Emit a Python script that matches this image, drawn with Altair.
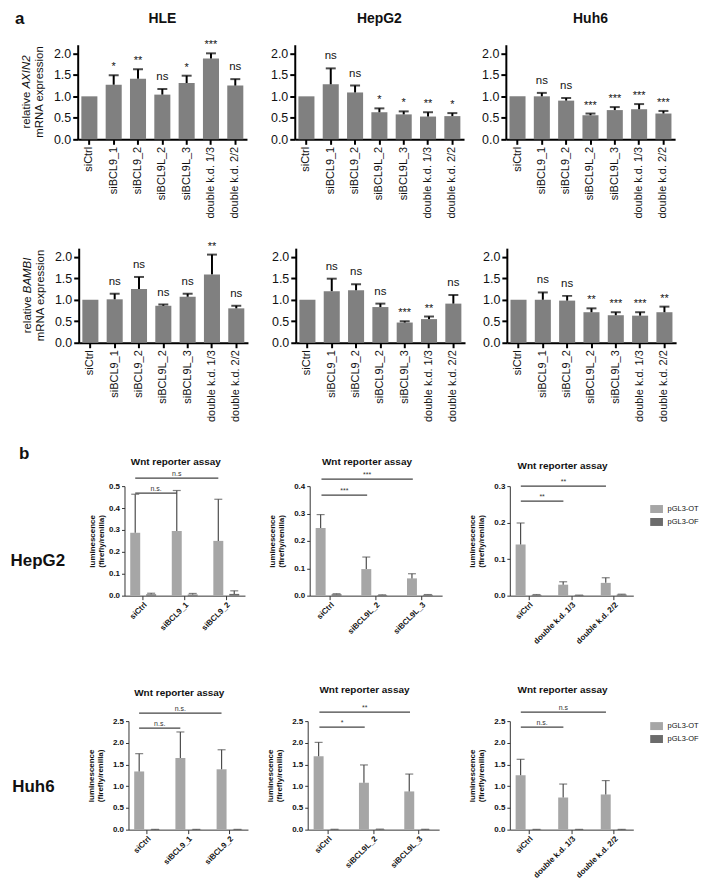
import altair as alt
import pandas as pd

FONT = "Liberation Sans"
INK = "#111111"
BAR_A = "#808080"
ERR_B = "#4d4d4d"

# ---------------- panel a data ----------------
a_conds = ["siCtrl", "siBCL9_1", "siBCL9_2", "siBCL9L_2", "siBCL9L_3",
           "double k.d. 1/3", "double k.d. 2/2"]
a_ticks = [0, 0.5, 1.0, 1.5, 2.0]
a_ymax = 2.2

axin2_hle_mean = [1.00, 1.27, 1.41, 1.04, 1.31, 1.88, 1.25]
axin2_hle_top = [1.00, 1.49, 1.63, 1.17, 1.48, 2.00, 1.40]
axin2_hle_sig = ["", "*", "**", "ns", "*", "***", "ns"]

axin2_hepg2_mean = [1.00, 1.28, 1.09, 0.63, 0.58, 0.53, 0.54]
axin2_hepg2_top = [1.00, 1.65, 1.25, 0.72, 0.65, 0.63, 0.61]
axin2_hepg2_sig = ["", "ns", "ns", "*", "*", "**", "*"]

axin2_huh6_mean = [1.00, 1.00, 0.90, 0.56, 0.68, 0.70, 0.60]
axin2_huh6_top = [1.00, 1.08, 0.96, 0.60, 0.75, 0.82, 0.66]
axin2_huh6_sig = ["", "ns", "ns", "***", "***", "***", "***"]

bambi_hle_mean = [1.00, 1.01, 1.25, 0.86, 1.07, 1.59, 0.80]
bambi_hle_top = [1.00, 1.14, 1.53, 0.89, 1.14, 2.05, 0.86]
bambi_hle_sig = ["", "ns", "ns", "ns", "ns", "**", "ns"]

bambi_hepg2_mean = [1.00, 1.20, 1.22, 0.83, 0.47, 0.55, 0.91]
bambi_hepg2_top = [1.00, 1.49, 1.36, 0.91, 0.50, 0.61, 1.11]
bambi_hepg2_sig = ["", "ns", "ns", "ns", "***", "**", "ns"]

bambi_huh6_mean = [1.00, 1.00, 0.98, 0.71, 0.64, 0.63, 0.71]
bambi_huh6_top = [1.00, 1.17, 1.09, 0.80, 0.71, 0.71, 0.84]
bambi_huh6_sig = ["", "ns", "ns", "**", "***", "***", "**"]

# ---------------- panel b data ----------------
series = ["pGL3-OT", "pGL3-OF"]
series_colors = ["#a6a6a6", "#6b6b6b"]

groups_bcl9 = ["siCtrl", "siBCL9_1", "siBCL9_2"]
groups_bcl9l = ["siCtrl", "siBCL9L_2", "siBCL9L_3"]
groups_dkd = ["siCtrl", "double k.d. 1/3", "double k.d. 2/2"]

hep_bcl9_ot_mean = [0.287, 0.295, 0.250]
hep_bcl9_ot_top = [0.463, 0.480, 0.440]
hep_bcl9_of_mean = [0.006, 0.005, 0.008]
hep_bcl9_of_top = [0.011, 0.010, 0.022]
hep_bcl9_sig = ["n.s.", "n.s"]

hep_bcl9l_ot_mean = [0.247, 0.097, 0.063]
hep_bcl9l_ot_top = [0.296, 0.141, 0.080]
hep_bcl9l_of_mean = [0.005, 0.002, 0.003]
hep_bcl9l_of_top = [0.007, 0.003, 0.004]
hep_bcl9l_sig = ["***", "***"]

hep_dkd_ot_mean = [0.140, 0.030, 0.035]
hep_dkd_ot_top = [0.199, 0.038, 0.049]
hep_dkd_of_mean = [0.002, 0.001, 0.003]
hep_dkd_of_top = [0.003, 0.0015, 0.004]
hep_dkd_sig = ["**", "**"]

huh_bcl9_ot_mean = [1.34, 1.65, 1.39]
huh_bcl9_ot_top = [1.75, 2.25, 1.84]
huh_bcl9_of_mean = [0.004, 0.004, 0.004]
huh_bcl9_of_top = [0.006, 0.006, 0.006]
huh_bcl9_sig = ["n.s.", "n.s."]

huh_bcl9l_ot_mean = [1.69, 1.08, 0.88]
huh_bcl9l_ot_top = [2.01, 1.49, 1.28]
huh_bcl9l_of_mean = [0.005, 0.008, 0.005]
huh_bcl9l_of_top = [0.008, 0.012, 0.008]
huh_bcl9l_sig = ["*", "**"]

huh_dkd_ot_mean = [1.25, 0.74, 0.81]
huh_dkd_ot_top = [1.62, 1.05, 1.13]
huh_dkd_of_mean = [0.004, 0.004, 0.004]
huh_dkd_of_top = [0.006, 0.006, 0.006]
huh_dkd_sig = ["n.s.", "n.s"]

hep_ticks_1 = [0, 0.1, 0.2, 0.3, 0.4, 0.5]
hep_ticks_2 = [0, 0.1, 0.2, 0.3, 0.4]
hep_ticks_3 = [0, 0.1, 0.2, 0.3]
huh_ticks = [0, 0.5, 1.0, 1.5, 2.0, 2.5]


def text_layer(text, x, y, size, weight="normal", align="center", style="normal",
               angle=0, baseline="alphabetic"):
    src = pd.DataFrame({"label": [text]})
    kw = dict(fontSize=size, fontWeight=weight, align=align, baseline=baseline,
              fontStyle=style, color=INK, font=FONT)
    if angle:
        kw["angle"] = angle
    return alt.Chart(src).mark_text(**kw).encode(
        x=alt.value(x), y=alt.value(y), text="label:N")


def spacer(w):
    return alt.Chart(pd.DataFrame({"label": [""]})).mark_text().encode(
        x=alt.value(0), y=alt.value(0), text="label:N").properties(width=w, height=1)


# ---------------- panel a ----------------
A_W, A_H = 170, 95
A_PI, A_PO = 0.34, 0.15
FS_YT = 11.5
GENE_UNITS = {"AXIN2": 2890, "BAMBI": 3112}


def panel_a(mean, top, sig, title=None, gene=None, letter=None):
    df = pd.DataFrame({"cond": a_conds, "mean": mean, "top": top, "sig": sig})
    xs = alt.Scale(domain=a_conds, paddingInner=A_PI, paddingOuter=A_PO)
    ys = alt.Scale(domain=[0, a_ymax], nice=False, zero=True)
    xax = alt.Axis(title=None, labelAngle=-90, labelFontSize=11, labelColor=INK,
                   labelOverlap=False, domainColor="black", domainWidth=2,
                   tickColor="black", tickWidth=2, tickSize=5, labelPadding=2)
    yax = alt.Axis(title=None, values=a_ticks, format=".1f", grid=False,
                   labelFontSize=12.5, labelOverlap=False, labelColor=INK,
                   domainColor="black", domainWidth=2, tickColor="black",
                   tickWidth=2, tickSize=5, labelPadding=2)
    x = alt.X("cond:N", scale=xs, axis=xax)
    ymean = alt.Y("mean:Q", scale=ys, axis=yax)
    ytop = alt.Y("top:Q", scale=ys, axis=yax)
    base = alt.Chart(df)
    bars = base.mark_bar(color=BAR_A).encode(x=x, y=ymean)
    with_err = base.transform_filter("datum.top > datum.mean")
    err = with_err.mark_rule(color="black", strokeWidth=2).encode(
        x=x, y=ymean, y2="top:Q")
    cap = with_err.mark_tick(color="black", thickness=2, size=10).encode(x=x, y=ytop)
    ns = base.transform_filter("datum.sig == 'ns'").mark_text(
        dy=-9, fontSize=11.5, color=INK, font=FONT, baseline="alphabetic").encode(
        x=x, y=ytop, text="sig:N")
    stars = base.transform_filter("datum.sig != 'ns' && datum.sig != ''").mark_text(
        dy=-5, fontSize=11, color=INK, font=FONT, baseline="alphabetic").encode(
        x=x, y=ytop, text="sig:N")
    layers = [bars, err, cap, ns, stars]
    if title:
        layers.append(text_layer(title, A_W / 2, -21.5, 14, weight="bold"))
    if gene:
        rel_w = 3223 * FS_YT / 1000
        sp_w = 278 * FS_YT / 1000
        gene_w = GENE_UNITS[gene] * FS_YT / 1000
        total = rel_w + sp_w + gene_w
        yc = A_H / 2
        bottom = yc + total / 2
        layers.append(text_layer("relative", -51, bottom, FS_YT, align="left",
                                 angle=270, baseline="middle"))
        layers.append(text_layer(gene, -51, bottom - rel_w - sp_w, FS_YT,
                                 align="left", style="italic", angle=270,
                                 baseline="middle"))
        layers.append(text_layer("mRNA expression", -38, yc, FS_YT, align="center",
                                 angle=270, baseline="middle"))
    if letter:
        layers.append(text_layer(letter, -63, -20.5, 17, weight="bold", align="left"))
    return alt.layer(*layers).properties(width=A_W, height=A_H)


# ---------------- panel b ----------------
B_PI, B_PO = 0.2, 0.05
O_PI, O_PO = 0.375, 0.23


def panel_b(groups, ot_mean, ot_top, of_mean, of_top, sig, ymax, yticks, width,
            height, title_y, sig_y, title_pad=8, legend_y=None, row_label=None,
            row_label_x=-87, row_label_y=0, letter=False):
    df = pd.DataFrame({
        "group": groups + groups,
        "series": [series[0]] * len(groups) + [series[1]] * len(groups),
        "mean": ot_mean + of_mean,
        "top": ot_top + of_top,
    })
    step = width / (len(groups) - B_PI + 2 * B_PO)
    sub = step * (1 - B_PI) / (2 - O_PI + 2 * O_PO)
    ot_shift = -sub / 2
    xs = alt.Scale(domain=groups, paddingInner=B_PI, paddingOuter=B_PO)
    ys = alt.Scale(domain=[0, ymax], nice=False, zero=True)
    xax = alt.Axis(title=None, labelAngle=-45, labelFontSize=8, labelFontWeight="bold",
                   labelColor=INK, labelOverlap=False, domainColor="#333333",
                   tickColor="#333333", tickSize=4, labelPadding=1)
    yax = alt.Axis(title=["luminescence", "(firefly/renilla)"], titleFontSize=8,
                   titleFontWeight="bold", titleColor=INK, titlePadding=title_pad,
                   titleLineHeight=9, values=yticks, format=".1f", grid=False,
                   labelFontSize=8, labelFontWeight="bold", labelColor=INK,
                   labelOverlap=False, domainColor="#333333", tickColor="#333333",
                   tickSize=3, labelPadding=2)
    x = alt.X("group:N", scale=xs, axis=xax)
    xo = alt.XOffset("series:N", scale=alt.Scale(domain=series, paddingInner=O_PI,
                                                   paddingOuter=O_PO))
    ymean = alt.Y("mean:Q", scale=ys, axis=yax)
    ytop = alt.Y("top:Q", scale=ys, axis=yax)
    if legend_y is None:
        color = alt.Color("series:N", scale=alt.Scale(domain=series, range=series_colors),
                          legend=None)
    else:
        color = alt.Color("series:N", scale=alt.Scale(domain=series, range=series_colors),
                          legend=alt.Legend(
                              title=None, orient="none", legendX=width + 19.4,
                              legendY=legend_y, labelFontSize=7.5, labelColor=INK,
                              symbolType="M-1.6,-1H1.6V1H-1.6Z", symbolSize=64,
                              symbolStrokeWidth=0, rowPadding=5, labelOffset=7))
    base = alt.Chart(df)
    bars = base.mark_bar().encode(x=x, xOffset=xo, y=ymean, color=color)
    err = base.mark_rule(color=ERR_B, strokeWidth=1.2).encode(
        x=x, xOffset=xo, y=ymean, y2="top:Q")
    cap = base.mark_tick(color=ERR_B, thickness=1.2, size=8).encode(
        x=x, xOffset=xo, y=ytop)
    layers = [bars, err, cap]
    for k, (g2, lab) in enumerate(zip(groups[1:], sig)):
        cdf = pd.DataFrame({"group": [groups[0]], "g2": [g2], "label": [lab]})
        yv = sig_y[k]
        rule = alt.Chart(cdf).mark_rule(
            color="#444444", strokeWidth=1.2, xOffset=ot_shift, x2Offset=ot_shift
        ).encode(x=x, x2="g2:N", y=alt.value(yv))
        mid = (groups.index(g2) / 2) * step + ot_shift
        txt = alt.Chart(cdf).mark_text(
            fontSize=7, color="#333333", font=FONT, dx=mid, baseline="alphabetic"
        ).encode(x=x, y=alt.value(yv - 2.5), text="label:N")
        layers += [rule, txt]
    layers.append(text_layer("Wnt reporter assay", width / 2 - 9, title_y, 10,
                             weight="bold"))
    if row_label:
        layers.append(text_layer(row_label, row_label_x, row_label_y, 17,
                                 weight="bold"))
    if letter:
        layers.append(text_layer("b", -106, -27, 17, weight="bold", align="left"))
    return alt.layer(*layers).properties(width=width, height=height)


def row(*charts):
    return alt.hconcat(*charts, spacing=0).resolve_scale(color="independent")


row_a1 = row(
    spacer(7),
    panel_a(axin2_hle_mean, axin2_hle_top, axin2_hle_sig, title="HLE", gene="AXIN2",
            letter="a"),
    spacer(22.6),
    panel_a(axin2_hepg2_mean, axin2_hepg2_top, axin2_hepg2_sig, title="HepG2"),
    spacer(16.6),
    panel_a(axin2_huh6_mean, axin2_huh6_top, axin2_huh6_sig, title="Huh6"),
)
row_a2 = row(
    spacer(13),
    panel_a(bambi_hle_mean, bambi_hle_top, bambi_hle_sig, gene="BAMBI"),
    spacer(22.6),
    panel_a(bambi_hepg2_mean, bambi_hepg2_top, bambi_hepg2_sig),
    spacer(16.6),
    panel_a(bambi_huh6_mean, bambi_huh6_top, bambi_huh6_sig),
)

B_H1, B_H2 = 110, 109

row_b1 = row(
    spacer(1.6),
    panel_b(groups_bcl9, hep_bcl9_ot_mean, hep_bcl9_ot_top, hep_bcl9_of_mean,
            hep_bcl9_of_top, hep_bcl9_sig, 0.5, hep_ticks_1, 121, B_H1, -21.5, [7, -8],
            title_pad=3, row_label="HepG2", row_label_x=-87, row_label_y=80,
            letter=True),
    spacer(22.4),
    panel_b(groups_bcl9l, hep_bcl9l_ot_mean, hep_bcl9l_ot_top, hep_bcl9l_of_mean,
            hep_bcl9l_of_top, hep_bcl9l_sig, 0.4, hep_ticks_2, 133, B_H1, -21.5, [9, -7]),
    spacer(25.4),
    panel_b(groups_dkd, hep_dkd_ot_mean, hep_dkd_ot_top, hep_dkd_of_mean,
            hep_dkd_of_top, hep_dkd_sig, 0.3, hep_ticks_3, 124, B_H1, -17.5, [15, 0],
            legend_y=19),
)
row_b2 = row(
    spacer(3.2),
    panel_b(groups_bcl9, huh_bcl9_ot_mean, huh_bcl9_ot_top, huh_bcl9_of_mean,
            huh_bcl9_of_top, huh_bcl9_sig, 2.5, huh_ticks, 120, B_H2, -25.5, [7, -8],
            row_label="Huh6", row_label_x=-95.5, row_label_y=71),
    spacer(17.4),
    panel_b(groups_bcl9l, huh_bcl9l_ot_mean, huh_bcl9l_ot_top, huh_bcl9l_of_mean,
            huh_bcl9l_of_top, huh_bcl9l_sig, 2.5, huh_ticks, 132, B_H2, -28.5, [6, -9]),
    spacer(28.4),
    panel_b(groups_dkd, huh_dkd_ot_mean, huh_dkd_ot_top, huh_dkd_of_mean,
            huh_dkd_of_top, huh_dkd_sig, 2.5, huh_ticks, 124, B_H2, -28.5, [6, -9],
            legend_y=1),
)

block_a = alt.vconcat(row_a1, row_a2, spacing=21.3).resolve_scale(color="independent")
block_b = alt.vconcat(row_b1, row_b2, spacing=39).resolve_scale(color="independent")

chart = alt.vconcat(block_a, block_b, spacing=23.3).resolve_scale(
    color="independent"
).properties(
    padding={"left": 0, "top": 0, "right": 0, "bottom": 0}
).configure(font=FONT).configure_view(strokeWidth=0)

chart.save("out.html", embed_options={"renderer": "svg", "actions": False})
